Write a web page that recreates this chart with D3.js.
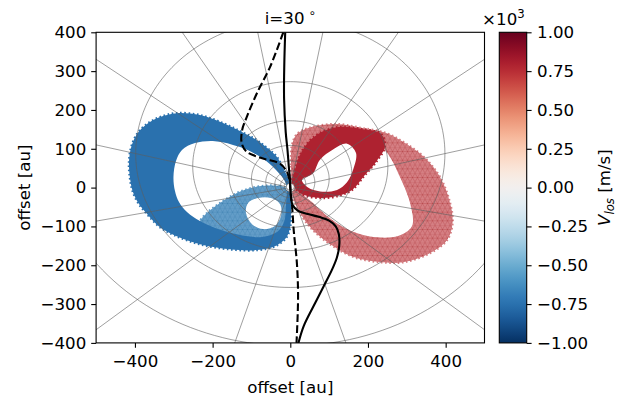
<!DOCTYPE html>
<html>
<head>
<meta charset="utf-8">
<script src="https://cdn.jsdelivr.net/npm/d3@7"></script>
<style>
  body { margin: 0; background: #fff; }
  svg { display: block; }
  text { font-family: "DejaVu Sans", sans-serif; fill: #000; }
</style>
</head>
<body>
<svg id="fig" width="630" height="406"></svg>
<script>
// ---- axis ticks ----
const xTicks = [-400, -200, 0, 200, 400];
const yTicks = [-400, -300, -200, -100, 0, 100, 200, 300, 400];
const cbTicks = [-1, -0.75, -0.5, -0.25, 0, 0.25, 0.5, 0.75, 1];   // in units of 10^3 m/s

// ---- projected polar grid of the flared surface (au, degrees) ----
const ringRadii = [10, 15.8, 25.1, 39.8, 63.1, 100, 158.5, 251.2, 398.1, 631, 1000];
const spokeAzimuths = [0, 25.7, 51.4, 77.1, 102.9, 128.6, 154.3, 180, 205.7, 231.4, 257.1, 282.9, 308.6, 334.3];
const inclinationDeg = 30;
const surfaceLift = 0.22;

// ---- streamer footprints on the sky (au): outline and inner hole ----
const blueLoopOuter = [[-3.3,19.3],[-16.2,45.1],[-34.3,78.5],[-62.6,104.3],[-90.9,124.9],[-129.5,145.5],[-173.3,166.1],[-232.5,186.7],[-291.8,191.8],[-335.5,181.6],[-369,163.6],[-394.8,137.8],[-410.2,101.7],[-415.4,63.1],[-412.8,24.5],[-405.1,-11.6],[-389.6,-42.5],[-366.5,-70.8],[-338,-100],[-300,-122],[-232.5,-146],[-155.3,-159],[-85.8,-161],[-39.4,-151],[-11.1,-130.1],[-0.8,-104.3],[1.8,-63.1],[1.8,-19.3]];
const blueLoopHole = [[-11.1,9],[-36.8,45.1],[-72.9,76],[-129.5,104.3],[-193.9,119.7],[-245.4,114.6],[-278.9,96.6],[-294.3,68.2],[-300.8,27],[-296.9,-9],[-286.6,-37.3],[-266,-63.1],[-232.5,-86.3],[-186.2,-106.9],[-129.5,-122.3],[-72.9,-127.5],[-34.3,-114.6],[-16.2,-88.8],[-11.1,-45.1]];
const blueInnerOuter = [[-3.3,-6.4],[-26.5,3.9],[-57.4,5.2],[-96.1,0],[-137.3,-14.2],[-181,-39.9],[-214.5,-65.7],[-232.5,-88.8],[-219.7,-104.3],[-186.2,-117.2],[-139.8,-126.2],[-85.8,-131.3],[-39.4,-122.3],[-13.6,-101.7],[-3.3,-65.7],[-0.8,-32.2]];
const blueInnerHole = [[-108.9,-39.9],[-114.1,-65.7],[-98.6,-94.1],[-70.3,-106.9],[-39.4,-99.1],[-24,-73.4],[-26.5,-42.5],[-49.7,-27],[-83.2,-27]];
const redLoopOuter = [[4.4,3.9],[1.8,57.9],[4.4,109.4],[17.3,137.8],[50.7,154.5],[120.3,163.5],[184.6,153.2],[246.4,140.4],[295.4,114.6],[344.3,78.5],[385.5,27],[411.3,-39.9],[417.7,-91.4],[403.5,-135.2],[359.8,-168.7],[292.8,-191.9],[231,-191.9],[164,-179],[102.2,-145.5],[53.3,-104.3],[22.4,-60.5],[7,-24.5]];
const redLoopHole = [[25,-6.4],[58.5,-39.9],[94.5,-73.4],[146,-106.9],[205.3,-126.2],[277.4,-124.9],[313.4,-99.1],[308.3,-39.9],[279.9,32.2],[251.6,86.3],[218.1,119.7],[166.6,130],[102.2,124.9],[50.7,106.9],[27.5,57.9]];
const redInnerOuter = [[4.4,11.6],[12.1,45.1],[22.4,78.5],[40.4,109.4],[71.3,137.8],[122.8,155.8],[184.6,150.7],[233.6,137.8],[243.9,106.9],[220.7,65.7],[189.8,29.6],[161.5,-4],[128,-20],[81.6,-27],[37.9,-20],[14.7,-4]];
const redInnerHole = [[30.1,20],[58,36.6],[76.5,72],[110,98],[146,113],[169.2,88.8],[161.5,45.1],[146,14],[120.3,-6],[76.5,-10],[45.6,0]];
// line-of-sight velocity of each streamer (m/s): blue loop, inner blue, red loop, inner red
const streamerVlos = [-750, -680, 740, 790];

// ---- projected streamlines (au) ----
const streamlineSolid = [[-13.1,400],[-15.5,314.7],[-16,228.7],[-11.8,142.9],[-7.2,96.6],[-3.5,50],[-0.8,22.7],[0,0],[2,-25],[6,-45],[20,-60],[45,-68],[76,-76],[100,-85],[117,-100],[125,-120],[126,-150],[120,-180],[108,-210],[85,-256],[59,-307],[34,-358],[21,-400]];
const streamlineDashed = [[-18,400],[-52,311],[-86,243],[-112,182],[-124,148],[-125,114],[-112,92],[-70,75],[-27,62],[-8.5,40],[-2,20],[0,0],[2,-25],[4.4,-45],[8.8,-110],[17,-195],[20,-281],[16,-400]];
const starRadius = 11;   // au, blank core at the origin

// ---- layout ----
const svg = d3.select("#fig");
const FS = 16.67;
const plot = { left: 96.1, right: 484.5, top: 32.3, bottom: 342.9 };
const cbar = { left: 499.3, right: 526.7 };

const x = d3.scaleLinear().domain([-500, 500]).range([plot.left, plot.right]);
const y = d3.scaleLinear().domain([-400, 400]).range([plot.bottom, plot.top]);
const vColor = d3.scaleSequential(t => d3.interpolateRdBu(1 - t)).domain([-1000, 1000]);

const defs = svg.append("defs");
defs.append("clipPath").attr("id", "plotClip")
  .append("rect")
  .attr("x", plot.left).attr("y", plot.top)
  .attr("width", plot.right - plot.left).attr("height", plot.bottom - plot.top);

// triangular mesh texture for the far-side (translucent) streamers
function meshPattern(id, color) {
  const p = defs.append("pattern").attr("id", id)
    .attr("patternUnits", "userSpaceOnUse").attr("width", 5).attr("height", 8.66);
  p.append("path")
    .attr("d", "M0,0H5M0,4.33H5M0,0L5,8.66M5,0L0,8.66")
    .attr("stroke", color).attr("stroke-width", 0.6).attr("stroke-opacity", 0.45).attr("fill", "none");
}

const g = svg.append("g").attr("clip-path", "url(#plotClip)");

const loopLine = d3.line()
  .x(d => x(d[0])).y(d => y(d[1]))
  .curve(d3.curveCatmullRomClosed.alpha(0.5));

function drawStreamer(outer, hole, vlos, translucent, id) {
  const c = vColor(vlos);
  const fill = translucent ? d3.interpolateRgb("#ffffff", c)(translucent) : c;
  const d = loopLine(outer) + loopLine(hole);
  // ragged rim left by the scattered markers along the outer edge
  g.append("path").attr("d", loopLine(outer)).attr("fill", "none")
    .attr("stroke", fill).attr("stroke-width", 2.4).attr("stroke-dasharray", "1.6,2.6");
  g.append("path").attr("d", d).attr("fill-rule", "evenodd").attr("fill", fill);
  if (translucent) {
    meshPattern(id, d3.color(c).darker(0.3));
    g.append("path").attr("d", d).attr("fill-rule", "evenodd")
      .attr("fill", `url(#${id})`);
  }
}

drawStreamer(redLoopOuter, redLoopHole, streamerVlos[2], 0.62, "meshRed");
drawStreamer(redInnerOuter, redInnerHole, streamerVlos[3], 0, null);
drawStreamer(blueInnerOuter, blueInnerHole, streamerVlos[1], 0.78, "meshBlue");
drawStreamer(blueLoopOuter, blueLoopHole, streamerVlos[0], 0, null);

// blank core around the protostar
g.append("circle").attr("cx", x(0)).attr("cy", y(0))
  .attr("r", x(starRadius) - x(0)).attr("fill", "#fff");

// ---- projected grid ----
const cosI = Math.cos(inclinationDeg * Math.PI / 180);
function proj(r, phiDeg) {
  const p = phiDeg * Math.PI / 180;
  return [r * Math.cos(p), r * (cosI * Math.sin(p) + surfaceLift)];
}
const gridLine = d3.line().x(d => x(d[0])).y(d => y(d[1]));
const gridG = g.append("g").attr("fill", "none").attr("stroke", "#5e5e5e").attr("stroke-width", 0.6);
ringRadii.forEach(r => {
  const pts = d3.range(0, 361, 2).map(a => proj(r, a));
  gridG.append("path").attr("d", gridLine(pts));
});
spokeAzimuths.forEach(a => {
  gridG.append("path").attr("d", gridLine([proj(ringRadii[0], a), proj(2000, a)]));
});

// ---- streamlines ----
const sLine = d3.line().x(d => x(d[0])).y(d => y(d[1])).curve(d3.curveCatmullRom.alpha(0.5));
g.append("path").attr("d", sLine(streamlineSolid))
  .attr("fill", "none").attr("stroke", "#000").attr("stroke-width", 2.1);
g.append("path").attr("d", sLine(streamlineDashed))
  .attr("fill", "none").attr("stroke", "#000").attr("stroke-width", 2.1)
  .attr("stroke-dasharray", "7.7,3.3");

// ---- axes ----
const tickLen = 4.9;
const xAxis = svg.append("g").attr("transform", `translate(0,${plot.bottom})`)
  .call(d3.axisBottom(x).tickValues(xTicks).tickSize(tickLen).tickPadding(7.6).tickFormat(d3.format("d")));
const yAxis = svg.append("g").attr("transform", `translate(${plot.left},0)`)
  .call(d3.axisLeft(y).tickValues(yTicks).tickSize(tickLen).tickPadding(4.9).tickFormat(d3.format("d")));
[xAxis, yAxis].forEach(a => {
  a.select(".domain").remove();
  a.selectAll("line").attr("stroke", "#000").attr("stroke-width", 1.1);
  a.selectAll("text").attr("font-size", FS).attr("font-family", "DejaVu Sans").attr("fill", "#000");
});

svg.append("rect")
  .attr("x", plot.left).attr("y", plot.top)
  .attr("width", plot.right - plot.left).attr("height", plot.bottom - plot.top)
  .attr("fill", "none").attr("stroke", "#000").attr("stroke-width", 1.1);

// axis labels
svg.append("text").attr("x", x(0)).attr("y", 393).attr("text-anchor", "middle")
  .attr("font-size", FS).text("offset [au]");
svg.append("text").attr("transform", `translate(30,${(plot.top + plot.bottom) / 2}) rotate(-90)`)
  .attr("text-anchor", "middle").attr("font-size", FS).text("offset [au]");

// title
const title = svg.append("text").attr("x", x(0)).attr("y", 24).attr("text-anchor", "middle").attr("font-size", FS);
title.append("tspan").text("i=30");
title.append("tspan").attr("dx", 4).attr("dy", -7).attr("font-size", 11.7).text("∘");

// ---- colorbar ----
const cb = d3.scaleLinear().domain([-1, 1]).range([plot.bottom, plot.top]);
const grad = defs.append("linearGradient").attr("id", "cbGrad")
  .attr("x1", 0).attr("y1", 1).attr("x2", 0).attr("y2", 0);
d3.range(0, 1.0001, 0.025).forEach(t => {
  grad.append("stop").attr("offset", t).attr("stop-color", vColor(-1000 + 2000 * t));
});
svg.append("rect")
  .attr("x", cbar.left).attr("y", plot.top)
  .attr("width", cbar.right - cbar.left).attr("height", plot.bottom - plot.top)
  .attr("fill", "url(#cbGrad)").attr("stroke", "#000").attr("stroke-width", 1.1);
const cbAxis = svg.append("g").attr("transform", `translate(${cbar.right},0)`)
  .call(d3.axisRight(cb).tickValues(cbTicks).tickSize(tickLen).tickPadding(5.5).tickFormat(d3.format(".2f")));
cbAxis.select(".domain").remove();
cbAxis.selectAll("line").attr("stroke", "#000").attr("stroke-width", 1.1);
cbAxis.selectAll("text").attr("font-size", FS).attr("font-family", "DejaVu Sans").attr("fill", "#000");

// offset text ×10^3
const off = svg.append("text").attr("x", cbar.right - 2).attr("y", 25).attr("text-anchor", "end").attr("font-size", FS);
off.append("tspan").text("×10");
off.append("tspan").attr("dy", -7).attr("font-size", 11.7).text("3");

// colorbar label V_los [m/s]
const cbl = svg.append("text")
  .attr("transform", `translate(610,${(plot.top + plot.bottom) / 2}) rotate(-90)`)
  .attr("text-anchor", "middle").attr("font-size", FS);
cbl.append("tspan").attr("font-style", "italic").text("V");
cbl.append("tspan").attr("font-style", "italic").attr("font-size", 11.7).attr("dy", 3.5).text("los");
cbl.append("tspan").attr("dy", -3.5).text(" [m/s]");
</script>
</body>
</html>
